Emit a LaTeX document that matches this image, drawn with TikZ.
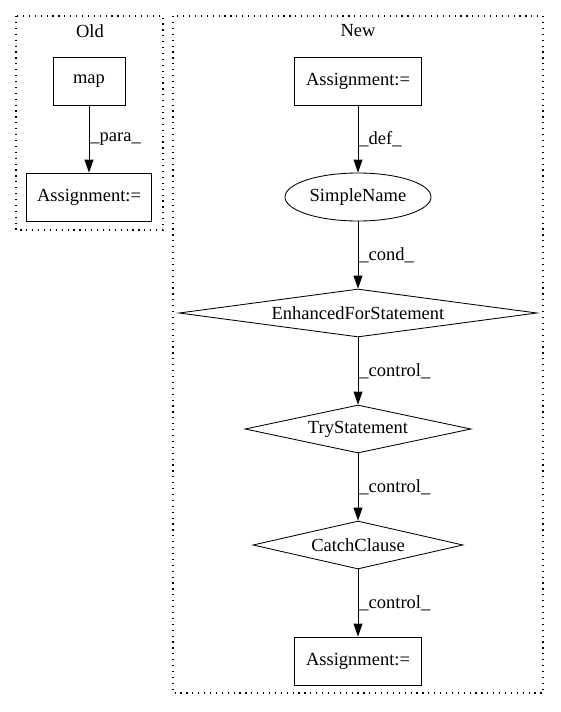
\documentclass[tikz,border=0pt]{standalone}
\usepackage{tikz}
\usetikzlibrary{arrows.meta,shapes.geometric}
\usepackage{fontspec}
\setmainfont{Liberation Serif}

\begin{document}
\begin{tikzpicture}[->,>={Stealth[length=13pt,width=9pt,inset=0pt]},auto,x=1pt,y=-1pt,
        node distance=116pt,line width=0.85pt,
        every node/.style={font=\fontsize{18.5}{20}\selectfont},
        stmt/.style={rectangle,draw,-,minimum height=48pt,inner sep=2pt},
        ident/.style={ellipse,draw,-,minimum width=124pt,minimum height=48pt},
        branch/.style={diamond,draw,-,inner sep=0pt,minimum height=48pt},
        lbl/.style={inner sep=1pt},
        cluster/.style={-,line width=1.1pt,dash pattern=on 1.2pt off 4.7pt}]

    \useasboundingbox (0,0) rectangle (560,712);

    % clusters
    \draw[cluster] (16,16) rectangle (163,230);
    \draw[cluster] (173,16) rectangle (543,693);
    \node (old) at (90,31) {Old};
    \node (new) at (358,31) {New};

    % old
    \node[stmt,minimum width=72pt] (map) at (89,81) {map};
    \node[stmt,minimum width=125pt] (A1) [below of=map] {Assignment:=};

    % new
    \node[stmt,minimum width=127pt] (A2) at (358,81) {Assignment:=};
    \node[ident] (S) [below of=A2] {SimpleName};
    \node[branch,minimum width=358pt,shape aspect=7.4] (E) [below of=S] {EnhancedForStatement};
    \node[branch,minimum width=226pt,shape aspect=4.7] (T) [below of=E] {TryStatement};
    \node[branch,minimum width=210pt,shape aspect=4.4] (C) [below of=T] {CatchClause};
    \node[stmt,minimum width=127pt] (A3) [below of=C] {Assignment:=};

    \path (map) edge node[lbl] {\_para\_} (A1);
    \path (A2) edge node[lbl] {\_def\_} (S);
    \path (S) edge node[lbl] {\_cond\_} (E);
    \path (E) edge node[lbl] {\_control\_} (T);
    \path (T) edge node[lbl] {\_control\_} (C);
    \path (C) edge node[lbl] {\_control\_} (A3);

    \end{tikzpicture}
\end{document}
